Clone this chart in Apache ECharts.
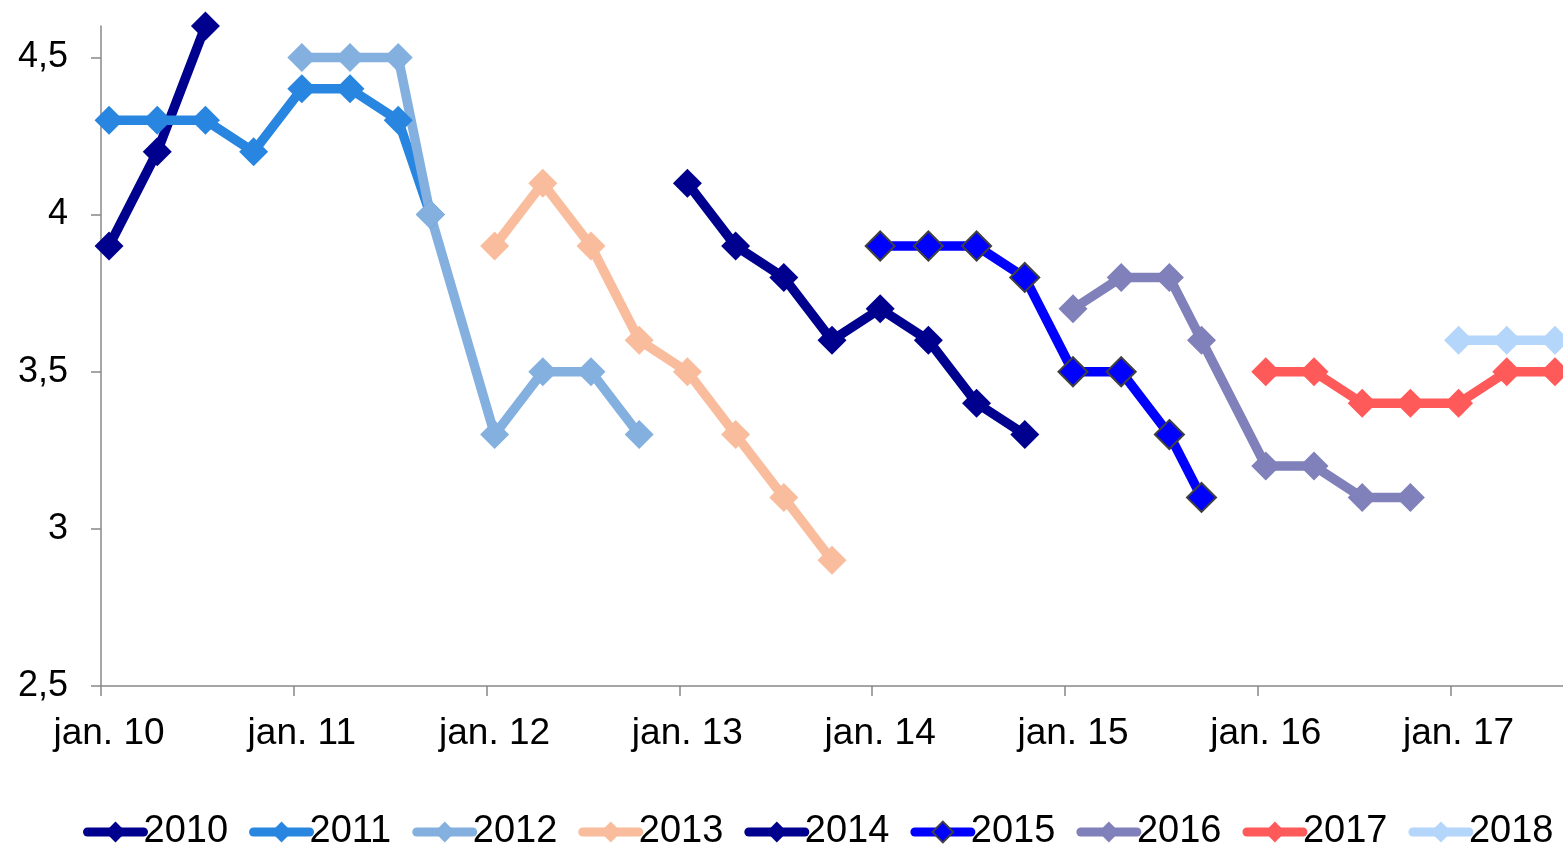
<!DOCTYPE html>
<html>
<head>
<meta charset="utf-8">
<script src="https://cdn.jsdelivr.net/npm/echarts@6/dist/echarts.min.js"></script>
<style>
  html, body { margin: 0; padding: 0; background: #fff; }
  #chart { width: 1563px; height: 846px; }
</style>
</head>
<body>
<div id="chart"></div>
<script>
// months counted from jan. 2010
var names = ["2010", "2011", "2012", "2013", "2014", "2015", "2016", "2017", "2018"];
var months2010 = [0, 3, 6];
var values2010 = [3.9, 4.2, 4.6];
var months2011 = [0, 3, 6, 9, 12, 15, 18, 20];
var values2011 = [4.3, 4.3, 4.3, 4.2, 4.4, 4.4, 4.3, 4.0];
var months2012 = [12, 15, 18, 20, 24, 27, 30, 33];
var values2012 = [4.5, 4.5, 4.5, 4.0, 3.3, 3.5, 3.5, 3.3];
var months2013 = [24, 27, 30, 33, 36, 39, 42, 45];
var values2013 = [3.9, 4.1, 3.9, 3.6, 3.5, 3.3, 3.1, 2.9];
var months2014 = [36, 39, 42, 45, 48, 51, 54, 57];
var values2014 = [4.1, 3.9, 3.8, 3.6, 3.7, 3.6, 3.4, 3.3];
var months2015 = [48, 51, 54, 57, 60, 63, 66, 68];
var values2015 = [3.9, 3.9, 3.9, 3.8, 3.5, 3.5, 3.3, 3.1];
var months2016 = [60, 63, 66, 68, 72, 75, 78, 81];
var values2016 = [3.7, 3.8, 3.8, 3.6, 3.2, 3.2, 3.1, 3.1];
var months2017 = [72, 75, 78, 81, 84, 87, 90];
var values2017 = [3.5, 3.5, 3.4, 3.4, 3.4, 3.5, 3.5];
var months2018 = [84, 87, 90];
var values2018 = [3.6, 3.6, 3.6];

var xTicks = [0, 12, 24, 36, 48, 60, 72, 84];
var yTicks = [2.5, 3, 3.5, 4, 4.5];

var monthsAll = [months2010, months2011, months2012, months2013, months2014, months2015, months2016, months2017, months2018];
var valuesAll = [values2010, values2011, values2012, values2013, values2014, values2015, values2016, values2017, values2018];
var colors = ["#00008e", "#2886e0", "#84b0e0", "#f9bc9c", "#00008e", "#0000ff", "#8080bb", "#ff5a5a", "#b4d6fb"];

var font = "'Liberation Sans', Arial, sans-serif";

var series = names.map(function (name, i) {
	// points sit in the middle of their month
	var data = monthsAll[i].map(function (m, j) {
		return [m + 0.5, valuesAll[i][j]];
	});
	var isBordered = name === "2015";
	return {
		name: name,
		type: "line",
		data: data,
		clip: false,
		symbol: "diamond",
		symbolSize: 29,
		lineStyle: { color: colors[i], width: 9.5 },
		itemStyle: {
			color: colors[i],
			borderColor: isBordered ? "#404040" : colors[i],
			borderWidth: isBordered ? 2 : 0,
		},
		emphasis: { disabled: true },
	};
});

var myChart = echarts.init(document.getElementById("chart"));
myChart.setOption({
	animation: false,
	textStyle: { fontFamily: font },
	grid: { left: 101, right: 0, top: 26, bottom: 160, containLabel: false },
	xAxis: {
		type: "value",
		min: 0,
		max: 91,
		interval: 12,
		splitLine: { show: false },
		axisLine: { lineStyle: { color: "#888", width: 1.5 } },
		axisTick: { show: true, length: 10, customValues: xTicks, lineStyle: { color: "#888", width: 1.5 } },
		axisLabel: {
			customValues: xTicks,
			color: "#000",
			fontSize: 37,
			fontFamily: font,
			margin: 29,
			padding: [0, 0, 0, 16],
			formatter: function (v) {
				return "jan. " + (10 + Math.round(v / 12));
			},
		},
	},
	yAxis: {
		type: "value",
		min: 2.5,
		max: 4.6,
		splitLine: { show: false },
		axisLine: { show: true, lineStyle: { color: "#888", width: 1.5 } },
		axisTick: { show: true, length: 10, customValues: yTicks, lineStyle: { color: "#888", width: 1.5 } },
		axisLabel: {
			customValues: yTicks,
			color: "#000",
			fontSize: 36,
			fontFamily: font,
			margin: 33,
			formatter: function (v) {
				return String(v).replace(".", ",");
			},
		},
	},
	legend: {
		data: names,
		left: 78,
		top: 808,
		itemWidth: 56,
		itemHeight: 26,
		itemGap: 21,
		lineStyle: { width: 9, cap: "round" },
		textStyle: { fontSize: 38, color: "#000", fontFamily: font, padding: [0, 0, 0, -5] },
	},
	series: series,
});
</script>
</body>
</html>
